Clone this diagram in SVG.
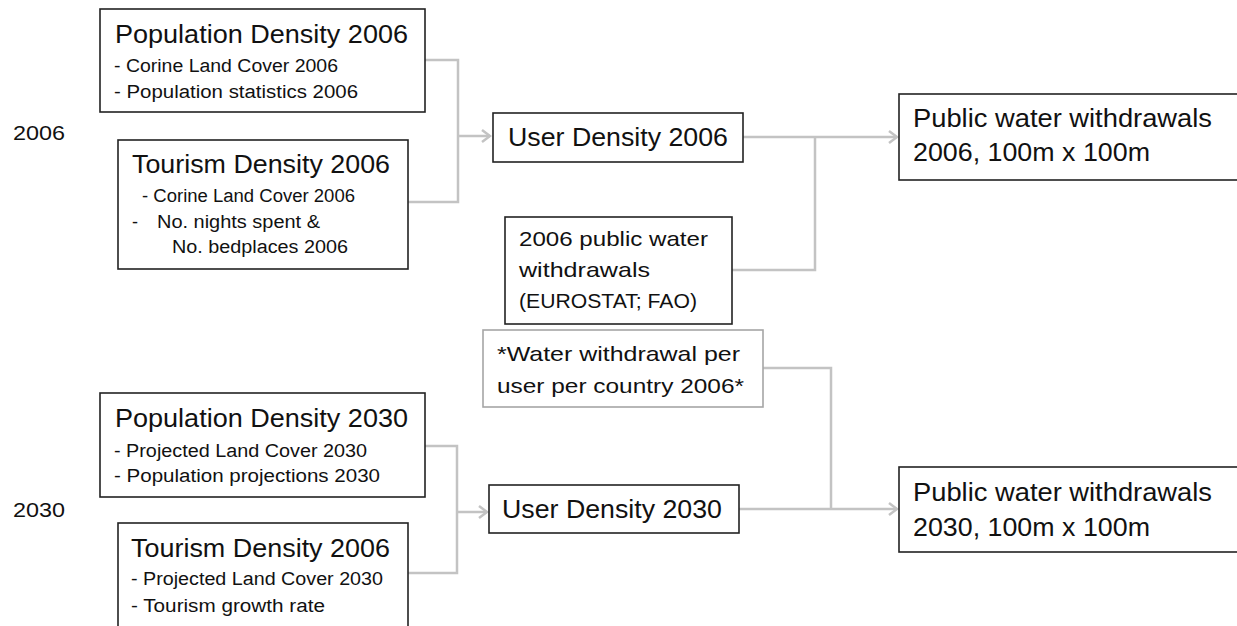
<svg xmlns="http://www.w3.org/2000/svg" width="1237" height="626" viewBox="0 0 1237 626">
<defs>
<style>
.box{fill:#fff;stroke:#222;stroke-width:1.6}
.box2{fill:#fff;stroke:#a6a6a6;stroke-width:1.6}
.t{font-family:"Liberation Sans",Arial,sans-serif;fill:#111}
.h{font-size:25px}
.s{font-size:18px}
.m{font-size:21px}
.c{fill:none;stroke:#c3c3c3;stroke-width:2.5}
</style>
<marker id="arr" markerWidth="12" markerHeight="14" refX="10" refY="7" orient="auto" markerUnits="userSpaceOnUse">
<path d="M2,1 L10,7 L2,13" fill="none" stroke="#c3c3c3" stroke-width="2.5"/>
</marker>
</defs>
<rect width="1237" height="626" fill="#fff"/>

<text class="t m" x="13" y="140" textLength="52" lengthAdjust="spacingAndGlyphs">2006</text>
<text class="t m" x="13" y="517" textLength="52" lengthAdjust="spacingAndGlyphs">2030</text>

<g id="connectors">
<polyline class="c" points="425,60 458,60 458,202 408,202"/>
<line class="c" x1="458" y1="136" x2="490" y2="136" marker-end="url(#arr)"/>
<line class="c" x1="743" y1="137" x2="897" y2="137" marker-end="url(#arr)"/>
<polyline class="c" points="732,270 815,270 815,137"/>
<polyline class="c" points="425,446 457,446 457,573 408,573"/>
<line class="c" x1="457" y1="512" x2="487" y2="512" marker-end="url(#arr)"/>
<polyline class="c" points="763,368 831,368 831,509"/>
<line class="c" x1="739" y1="509" x2="897" y2="509" marker-end="url(#arr)"/>
</g>

<g id="pop2006">
<rect class="box" x="100" y="9" width="325" height="103"/>
<text class="t h" x="115" y="43" textLength="293" lengthAdjust="spacingAndGlyphs">Population Density 2006</text>
<text class="t s" x="114" y="72" textLength="224" lengthAdjust="spacingAndGlyphs">- Corine Land Cover 2006</text>
<text class="t s" x="114" y="98" textLength="244" lengthAdjust="spacingAndGlyphs">- Population statistics 2006</text>
</g>

<g id="tour2006">
<rect class="box" x="118" y="140" width="290" height="129"/>
<text class="t h" x="132" y="173" textLength="258" lengthAdjust="spacingAndGlyphs">Tourism Density 2006</text>
<text class="t s" x="142" y="202" textLength="213" lengthAdjust="spacingAndGlyphs">- Corine Land Cover 2006</text>
<text class="t s" x="132" y="228">-</text>
<text class="t s" x="157" y="228" textLength="163" lengthAdjust="spacingAndGlyphs">No. nights spent &amp;</text>
<text class="t s" x="172" y="253" textLength="176" lengthAdjust="spacingAndGlyphs">No. bedplaces 2006</text>
</g>

<g id="user2006">
<rect class="box" x="493" y="113" width="250" height="49"/>
<text class="t h" x="508" y="146" textLength="220" lengthAdjust="spacingAndGlyphs">User Density 2006</text>
</g>

<g id="pww2006">
<rect class="box" x="505" y="217" width="227" height="107"/>
<text class="t m" x="519" y="246" textLength="189" lengthAdjust="spacingAndGlyphs">2006 public water</text>
<text class="t m" x="519" y="277" textLength="131" lengthAdjust="spacingAndGlyphs">withdrawals</text>
<text class="t m" x="519" y="308" textLength="178" lengthAdjust="spacingAndGlyphs">(EUROSTAT; FAO)</text>
</g>

<g id="out2006">
<rect class="box" x="899" y="94" width="345" height="86"/>
<text class="t h" x="913" y="127" textLength="299" lengthAdjust="spacingAndGlyphs">Public water withdrawals</text>
<text class="t h" x="913" y="161" textLength="237" lengthAdjust="spacingAndGlyphs">2006, 100m x 100m</text>
</g>

<g id="perUser">
<rect class="box2" x="483" y="330" width="280" height="77"/>
<text class="t m" x="497" y="361" textLength="243" lengthAdjust="spacingAndGlyphs">*Water withdrawal per</text>
<text class="t m" x="497" y="393" textLength="247" lengthAdjust="spacingAndGlyphs">user per country 2006*</text>
</g>

<g id="pop2030">
<rect class="box" x="100" y="393" width="325" height="104"/>
<text class="t h" x="115" y="427" textLength="293" lengthAdjust="spacingAndGlyphs">Population Density 2030</text>
<text class="t s" x="114" y="457" textLength="253" lengthAdjust="spacingAndGlyphs">- Projected Land Cover 2030</text>
<text class="t s" x="114" y="482" textLength="266" lengthAdjust="spacingAndGlyphs">- Population projections 2030</text>
</g>

<g id="tour2030">
<rect class="box" x="118" y="523" width="290" height="110"/>
<text class="t h" x="131" y="557" textLength="259" lengthAdjust="spacingAndGlyphs">Tourism Density 2006</text>
<text class="t s" x="131" y="585" textLength="252" lengthAdjust="spacingAndGlyphs">- Projected Land Cover 2030</text>
<text class="t s" x="131" y="612" textLength="194" lengthAdjust="spacingAndGlyphs">- Tourism growth rate</text>
</g>

<g id="user2030">
<rect class="box" x="489" y="485" width="250" height="48"/>
<text class="t h" x="502" y="518" textLength="220" lengthAdjust="spacingAndGlyphs">User Density 2030</text>
</g>

<g id="out2030">
<rect class="box" x="899" y="467" width="345" height="85"/>
<text class="t h" x="913" y="501" textLength="299" lengthAdjust="spacingAndGlyphs">Public water withdrawals</text>
<text class="t h" x="913" y="536" textLength="237" lengthAdjust="spacingAndGlyphs">2030, 100m x 100m</text>
</g>
</svg>
